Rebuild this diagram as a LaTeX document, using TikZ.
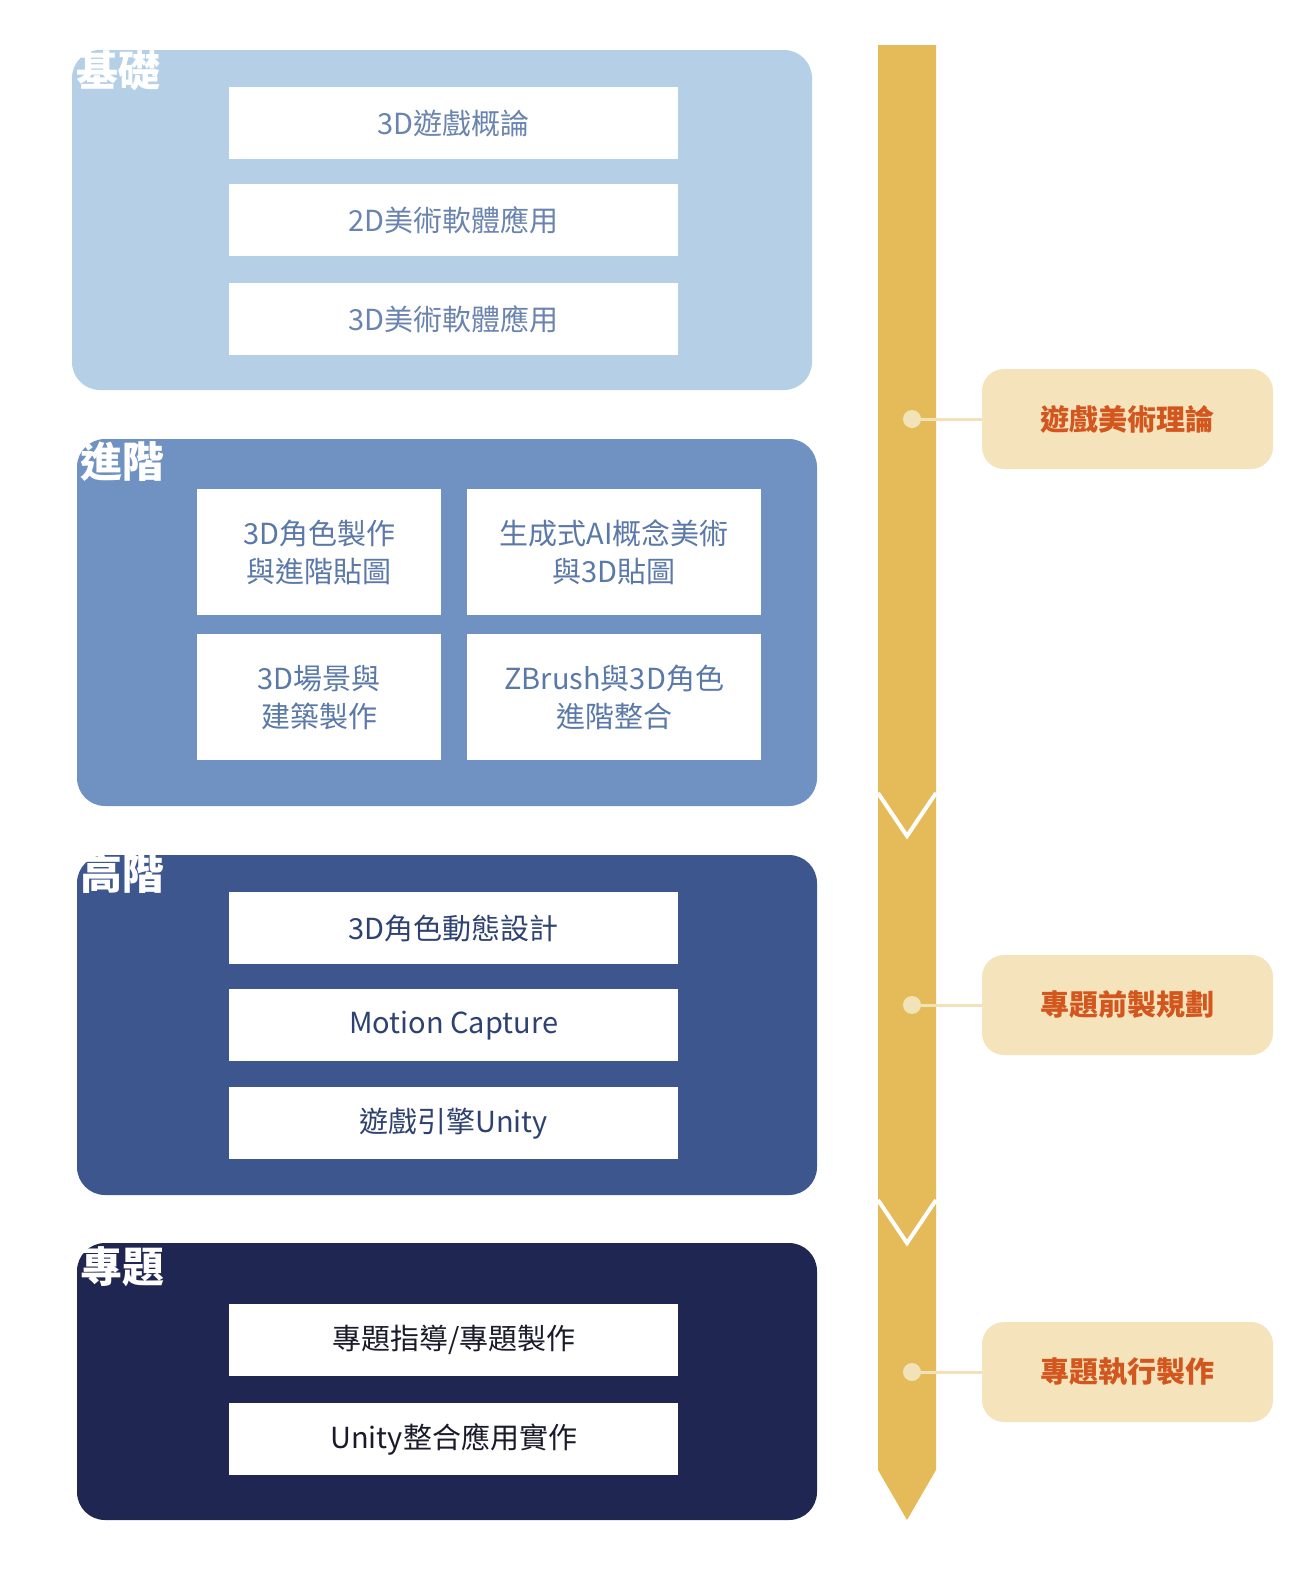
\documentclass[tikz,border=0pt]{standalone}
\usepackage{fontspec}
\setmainfont{Noto Sans CJK TC}
\newfontfamily\cjkb[BoldFont=* Bold]{Noto Sans CJK TC}
\definecolor{pA}{HTML}{B4CFE6}
\definecolor{pB}{HTML}{7092C3}
\definecolor{pC}{HTML}{3D578E}
\definecolor{pD}{HTML}{1F2651}
\definecolor{tA}{HTML}{6A84B0}
\definecolor{tB}{HTML}{5A78A8}
\definecolor{tC}{HTML}{2E4272}
\definecolor{tD}{HTML}{1A1A2A}
\definecolor{gold}{HTML}{E5BB5A}
\definecolor{cream}{HTML}{F5E3BC}
\definecolor{dotc}{HTML}{F2E2B8}
\definecolor{orng}{HTML}{D2561E}
\begin{document}
\begin{tikzpicture}[x=1pt,y=-1pt,
  panel/.style={rounded corners=28pt},
  ptitle/.style={anchor=north west,inner sep=0pt,text=white,font=\fontsize{42}{46}\selectfont\bfseries},
  wbox/.style={fill=white,anchor=north west,inner sep=0pt,align=center,font=\fontsize{29}{38}\selectfont},
  rbox/.style={fill=cream,rounded corners=22pt,minimum width=291pt,minimum height=100pt,text=orng,font=\fontsize{29}{34}\selectfont\bfseries},
  dot/.style={circle,fill=dotc,minimum size=18pt,inner sep=0pt}]
\useasboundingbox (0,0) rectangle (1310,1585);
% panels
\fill[pA,panel] (72,50) rectangle (812,390);
\fill[pB,panel] (77,439) rectangle (817,806);
\fill[pC,panel] (77,855) rectangle (817,1195);
\fill[pD,panel] (77,1243) rectangle (817,1520);
\node[ptitle] (t1) at (76,50) {基礎};
\node[ptitle] (t2) at (80,441) {進階};
\node[ptitle] (t3) at (80,853) {高階};
\node[ptitle] (t4) at (80,1246) {專題};
% panel 1
\node[wbox,text=tA,minimum width=449pt,minimum height=72pt] (a1) at (229,87) {3D遊戲概論};
\node[wbox,text=tA,minimum width=449pt,minimum height=72pt] (a2) at (229,184) {2D美術軟體應用};
\node[wbox,text=tA,minimum width=449pt,minimum height=72pt] (a3) at (229,283) {3D美術軟體應用};
% panel 2
\node[wbox,text=tB,minimum width=244pt,minimum height=126pt] (b1) at (197,489) {3D角色製作\\與進階貼圖};
\node[wbox,text=tB,minimum width=294pt,minimum height=126pt] (b2) at (467,489) {生成式AI概念美術\\與3D貼圖};
\node[wbox,text=tB,minimum width=244pt,minimum height=126pt] (b3) at (197,634) {3D場景與\\建築製作};
\node[wbox,text=tB,minimum width=294pt,minimum height=126pt] (b4) at (467,634) {ZBrush與3D角色\\進階整合};
% panel 3
\node[wbox,text=tC,minimum width=449pt,minimum height=72pt] (c1) at (229,892) {3D角色動態設計};
\node[wbox,text=tC,minimum width=449pt,minimum height=72pt] (c2) at (229,989) {Motion Capture};
\node[wbox,text=tC,minimum width=449pt,minimum height=72pt] (c3) at (229,1087) {遊戲引擎Unity};
% panel 4
\node[wbox,text=tD,minimum width=449pt,minimum height=72pt] (d1) at (229,1304) {專題指導/專題製作};
\node[wbox,text=tD,minimum width=449pt,minimum height=72pt] (d2) at (229,1403) {Unity整合應用實作};
% timeline
\fill[gold] (878,45) -- (936,45) -- (936,1470) -- (907,1520) -- (878,1470) -- cycle;
\draw[white,line width=4pt] (878,793) -- (907,836) -- (936,793);
\draw[white,line width=4pt] (878,1200) -- (907,1243) -- (936,1200);
% right labels
\node[rbox] (r1) at (1127.5,419) {遊戲美術理論};
\node[rbox] (r2) at (1127.5,1005) {專題前製規劃};
\node[rbox] (r3) at (1127.5,1372) {專題執行製作};
\node[dot] (p1) at (912,419) {};
\node[dot] (p2) at (912,1005) {};
\node[dot] (p3) at (912,1372) {};
\draw[dotc,line width=3pt] (p1) -- (r1.west);
\draw[dotc,line width=3pt] (p2) -- (r2.west);
\draw[dotc,line width=3pt] (p3) -- (r3.west);
\end{tikzpicture}
\end{document}
